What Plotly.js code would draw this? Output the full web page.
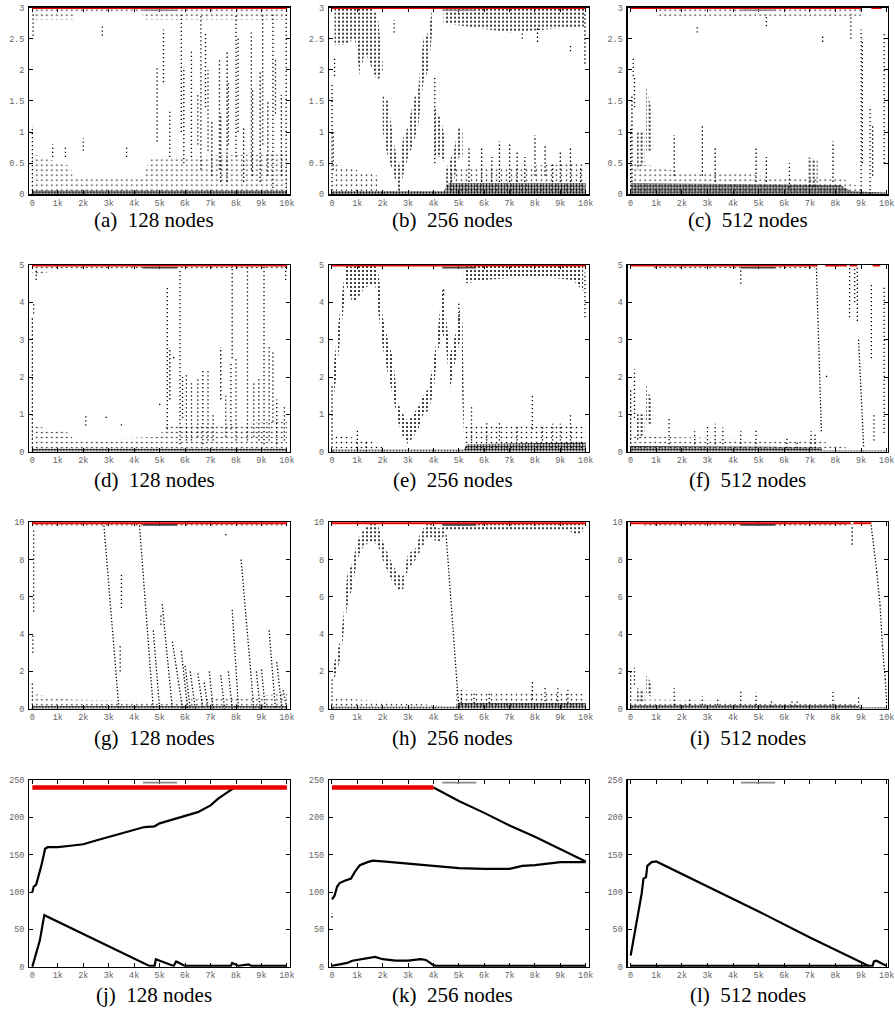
<!DOCTYPE html>
<html><head><meta charset="utf-8">
<script src="https://cdn.plot.ly/plotly-3.0.1.min.js"></script>
<style>html,body{margin:0;padding:0;background:#fff}#chart{width:895px;height:1010px}</style>
</head><body><div id="chart"></div>
<script>
// ---------- tick labels ----------
const xTickVals = [0,1,2,3,4,5,6,7,8,9,10];
const xTickText = ['0','1k','2k','3k','4k','5k','6k','7k','8k','9k','10k'];
const yTickVals = [[0,0.5,1,1.5,2,2.5,3],[0,1,2,3,4,5],[0,2,4,6,8,10],[0,50,100,150,200,250]];
const yTickText = [['0','0.5','1','1.5','2','2.5','3'],['0','1','2','3','4','5'],['0','2','4','6','8','10'],['0','50','100','150','200','250']];
const yMax = [3,5,10,250];
const redLevel = [3,5,10,240];
const letters = ['(a)','(b)','(c)','(d)','(e)','(f)','(g)','(h)','(i)','(j)','(k)','(l)'];
const nodeCounts = ['128 nodes','256 nodes','512 nodes'];

// ---------- panel (a) ----------
const a_red = [[0,10]];
const a_cloud = [[[0,0,0.65],[1.5,0,0.45],[1.6,0,0.25],[4.4,0,0.3],[4.6,0,0.6],[10,0,0.65]],
                 [[0,2.8,3],[1.6,2.8,3],[1.7,2.9,3],[4.3,2.9,3],[4.4,2.8,3],[10,2.8,3]]];
const a_band = [];
const a_dense = [[[0,0,0.06],[10,0,0.06]]];
const a_streak = [[0,0,1.1],[0.03,2.55,2.9],[2.0,0.7,0.9],[3.7,0.6,0.75],[0.8,0.6,0.8],[1.3,0.6,0.75],[2.75,2.55,2.7],
  [4.9,0.85,2.05],[5.15,1.8,2.65],[5.4,0.6,1.35],[5.85,1.0,2.9],[5.95,0.5,2.0],[6.25,0.6,2.3],[6.5,0.8,1.6],[6.62,0.4,2.9],
  [6.8,1.4,2.6],[6.9,0.7,2.0],[7.05,0.3,1.2],[7.35,0.4,2.2],[7.4,0.2,1.3],[7.65,0.2,2.3],[7.7,0.8,1.8],[8.0,0.6,2.9],
  [8.08,1.0,2.5],[8.3,0.2,1.1],[8.6,0.4,2.6],[8.65,0.3,1.7],[8.95,0.2,2.0],[9.05,0.8,2.9],[9.25,0.3,1.5],[9.45,0.1,2.9],
  [9.55,1.3,2.2],[9.78,0.3,1.6],[9.97,0.1,2.9]];
const a_diag = [];

// ---------- panel (b) ----------
const b_red = [[0,10]];
const b_band = [
  [[0.1,2.4,3],[0.5,2.4,3],[0.9,2.5,3],[1.1,1.9,3],[1.3,2.3,3],[1.5,2.1,3],[1.8,1.8,2.9],[2.0,2.0,2.1]],
  [[2.0,1.0,1.6],[2.2,0.6,1.5],[2.45,0.3,0.8],[2.65,0.0,0.45],[2.8,0.3,0.9],[3.0,0.6,1.1],[3.2,0.8,1.5],[3.4,1.1,1.7],[3.6,1.8,2.5],[3.8,2.0,2.6],[3.95,2.6,3.0]],
  [[4.05,0.6,1.4],[4.3,0.6,1.2],[4.45,0.5,0.9]],
  [[4.5,0.1,0.4],[4.8,0.2,0.7],[5.0,0.6,1.1],[5.15,0.6,1.0]],
  [[4.4,2.75,3.0],[7,2.6,3.0],[10,2.7,3.0]]];
const b_cloud = [
  [[4.6,0,0.4],[10,0,0.5]],
  [[0,0,0.5],[1.8,0,0.3]]];
const b_dense = [[[0,0,0.05],[4.4,0,0.05],[4.6,0,0.18],[10,0,0.18]]];
const b_streak = [[0,0,1.8],[0.1,1.9,2.2],[0.05,0.4,1.0],[4.05,0.5,1.9],[9.97,2.1,2.9],[5.4,0.2,0.75],[5.9,0.2,0.75],
  [6.3,0.2,0.6],[6.6,0.2,0.85],[7.0,0.2,0.8],[7.3,0.2,0.7],[7.6,0.2,0.6],[8.0,0.3,0.95],[8.4,0.3,0.8],[8.7,0.2,0.5],
  [9.0,0.2,0.7],[9.4,0.2,0.75],[9.8,0.2,0.45],[2.45,2.6,2.8],[9.4,2.3,2.4],[7.5,2.5,2.6],[8.1,2.45,2.7]];
const b_diag = [];

// ---------- panel (c) ----------
const c_red = [[0,9.0],[9.4,9.8]];
const c_cloud = [
  [[1.0,2.85,3],[9.0,2.85,3]],
  [[0,0,0.5],[1.0,0,0.45],[2.0,0,0.35],[4.5,0,0.35],[5,0,0.3],[8.3,0,0.25],[9.0,0,0.1]]];
const c_band = [
  [[0.25,0.4,1.0],[0.55,0.5,1.0]],
  [[0.6,0.7,1.75],[0.85,0.7,1.3]],
  [[6.9,0.1,0.6],[7.3,0.1,0.55]]];
const c_dense = [[[0,0,0.18],[8.2,0,0.15],[8.6,0,0.05],[10,0,0.03]]];
const c_streak = [[0,0,1.1],[0.05,0.2,1.6],[0.1,1.9,2.2],[0.15,1.4,1.9],[1.7,0.3,0.95],[2.8,0.3,1.1],[3.3,0.2,0.75],
  [4.9,0.2,0.75],[5.3,0.2,0.6],[7.9,0.2,0.85],[6.2,0.1,0.5],[9.0,0,2.65],[9.05,0.5,2.5],[9.35,0,1.4],[9.45,0.3,1.1],
  [8.6,2.5,2.9],[9.9,0.5,2.6],[7.5,2.45,2.55],[2.6,2.6,2.7],[5.3,2.7,2.9]];
const c_diag = [];

// ---------- panel (d) ----------
const d_red = [[0,10]];
const d_cloud = [
  [[0,0,0.7],[1.5,0,0.5],[1.6,0,0.3],[5.0,0,0.4],[5.2,0,0.7],[10,0,0.8]],
  [[0,4.7,5],[0.5,4.8,5],[1.5,4.85,5],[10,4.85,5]]];
const d_band = [];
const d_dense = [[[0,0,0.08],[10,0,0.08]]];
const d_streak = [[0,0,3.6],[0.05,3.7,4.0],[0.15,4.6,4.9],[2.1,0.7,0.95],[2.9,0.9,0.95],[3.5,0.7,0.75],[5.0,1.25,1.3],
  [5.3,0.6,4.4],[5.4,1.4,2.8],[5.8,0.2,4.9],[5.9,0.9,2.0],[6.05,0.3,2.1],[6.25,0.3,1.9],[6.5,0.4,2.0],[6.7,0.2,2.2],
  [6.9,0.3,2.2],[7.1,0.3,1.0],[7.4,1.4,2.8],[7.6,0.4,1.5],[7.8,0.6,2.4],[7.85,2.5,5],[8.0,0.3,2.5],[8.45,0.3,5],
  [8.7,0.4,1.9],[8.9,0.3,2.0],[9.1,0.2,5],[9.3,0.3,2.8],[9.45,0.8,2.7],[9.6,0.2,1.4],[9.9,0.3,1.2],[9.95,4.6,5],[5.55,2.5,2.6]];
const d_diag = [];

// ---------- panel (e) ----------
const e_red = [[0,10]];
const e_band = [
  [[0.05,1.4,2.2],[0.15,1.9,2.8],[0.3,2.9,3.7],[0.45,3.8,4.5],[0.55,4.5,5.0],[0.8,4.0,4.95],[1.0,4.1,5.0],[1.3,4.4,5.0],
   [1.7,4.5,5.0],[1.85,3.6,4.7],[2.0,2.8,3.6],[2.2,2.1,3.0],[2.4,1.5,2.5],[2.6,0.8,1.3],[2.8,0.4,1.0],[3.0,0.2,0.8],
   [3.2,0.4,1.0],[3.4,0.6,1.2],[3.6,1.0,1.5],[3.8,1.1,1.7],[4.0,1.6,2.4],[4.15,2.6,3.1],[4.35,3.2,4.4],[4.5,2.8,3.6],
   [4.65,1.7,2.6],[4.85,2.4,3.1],[5.05,3.0,3.9],[5.15,1.2,3.4],[5.2,0.5,1.0]],
  [[5.2,4.5,5],[6,4.6,5],[8,4.7,5],[9.5,4.6,5],[9.9,4.3,5]]];
const e_cloud = [
  [[5.2,0,0.7],[10,0,0.7]],
  [[0,0,0.5],[2.0,0,0.2]]];
const e_dense = [[[0,0,0.05],[5.2,0,0.05],[5.3,0,0.2],[10,0,0.25]]];
const e_streak = [[0,0,1.8],[1.0,0.1,0.6],[1.35,0,0.3],[5.5,0.3,1.2],[7.9,0.6,1.5],[9.4,0.3,1.0],[6.1,0.3,0.8],
  [6.6,0.3,0.8],[7.3,0.3,0.7],[8.3,0.3,0.7],[8.7,0.3,0.75],[9.0,0.3,0.75],[9.97,3.6,4.8],[5.0,3.5,4.0],[4.4,4.2,4.4]];
const e_diag = [];

// ---------- panel (f) ----------
const f_red = [[0,7.3],[7.6,8.45],[8.55,8.85],[9.45,9.75]];
const f_cloud = [
  [[0.9,4.85,5],[7.2,4.85,5]],
  [[0,0,0.45],[1.0,0,0.4],[4.5,0,0.35],[7.4,0,0.3],[8.0,0,0.15],[9.0,0,0.05]]];
const f_band = [
  [[0.25,0.3,1.0],[0.55,0.5,1.0]],
  [[0.6,0.8,1.8],[0.85,0.7,1.3]]];
const f_dense = [[[0,0,0.15],[7.4,0,0.12],[7.5,0,0.04],[10,0,0.04]]];
const f_streak = [[0,0,1.7],[0.15,0.9,2.2],[1.5,0.2,0.9],[2.5,0.2,0.55],[3.0,0.2,0.7],[3.3,0.2,0.75],[3.6,0.2,0.65],
  [4.3,0.1,0.55],[4.9,0.1,0.6],[6.1,0.1,0.35],[6.5,0.1,0.3],[7.05,0.1,0.55],[7.2,0.1,0.5],[8.55,3.6,5],[8.75,4.0,4.9],
  [8.85,3.5,5],[9.4,2.5,4.5],[9.5,0.3,1.0],[9.9,0.5,4.4],[4.3,4.5,4.9],[7.65,2.0,2.1]];
const f_diag = [[7.25,5,7.45,0.5],[8.9,3.0,9.1,0.1]];

// ---------- panel (g) ----------
const g_red = [[0,10]];
const g_cloud = [
  [[0,0,0.8],[1.5,0,0.5],[5,0,0.4],[10,0,0.8]],
  [[0,9.7,10],[10,9.7,10]]];
const g_band = [];
const g_dense = [[[0,0,0.15],[10,0,0.15]]];
const g_streak = [[0,0,1.5],[0.02,3.0,4.0],[0.05,5.2,9.7],[3.5,5.4,7.3],[5.05,4.5,5.0],[3.45,2.0,3.5],[7.6,9.3,9.5]];
const g_diag = [[2.8,10,3.4,0],[4.2,10,4.75,0],[4.75,4.2,5.0,0],[5.1,5.6,5.5,0],[5.5,3.6,5.9,0],[5.85,3.1,6.1,0],
  [6.0,2.3,6.2,0],[6.2,2.0,6.4,0],[6.5,1.9,6.7,0],[6.75,1.4,6.9,0],[6.95,2.0,7.1,0],[7.4,1.8,7.55,0],[7.7,2.0,7.85,0],
  [7.85,5.3,8.1,0],[8.2,8.0,8.7,0],[8.8,2.0,8.95,0],[9.0,2.1,9.15,0],[9.3,4.2,9.55,0],[9.6,2.5,9.8,0],[9.85,1.0,10,0]];

// ---------- panel (h) ----------
const h_red = [[0,10]];
const h_band = [
  [[0.05,1.5,2.3],[0.2,2.0,3.0],[0.35,2.8,3.8],[0.45,4.0,5.0],[0.6,5.5,7.2],[0.8,6.5,7.8],[1.0,8.0,9.0],[1.2,8.6,9.5],
   [1.5,9.0,10],[1.8,8.8,9.9],[2.0,8.0,9.0],[2.3,7.0,8.0],[2.6,6.4,7.2],[2.8,6.4,7.1],[3.0,7.5,8.3],[3.3,8.0,8.6],
   [3.5,8.5,9.5],[3.8,9.3,10],[4.1,9.0,9.8],[4.3,9.0,9.6],[4.5,9.5,10]],
  [[4.5,9.6,10],[9.3,9.6,10],[9.6,9.3,10],[9.9,9.5,10]]];
const h_cloud = [
  [[4.9,0,1.0],[10,0,0.8]],
  [[0,0,0.6],[4.9,0,0.1]]];
const h_dense = [[[0,0,0.1],[4.9,0,0.1],[5.0,0,0.3],[10,0,0.3]]];
const h_streak = [[0,0,1.6],[7.9,0.5,1.45],[8.4,0.4,1.2],[8.9,0.4,1.1],[9.3,0.3,1.0],[5.1,0.3,1.0],[5.6,0.3,0.9],[6.2,0.3,0.9]];
const h_diag = [[4.5,9.3,5.0,0]];

// ---------- panel (i) ----------
const i_red = [[0,8.6],[8.7,9.4]];
const i_cloud = [
  [[0.5,9.7,10],[8.5,9.7,10]],
  [[0,0,0.5],[1.0,0,0.5],[4.5,0,0.4],[8.2,0,0.35],[9.0,0,0.2],[9.3,0,0.05]]];
const i_band = [
  [[0.25,0.3,1.1],[0.55,0.3,1.0]],
  [[0.6,0.8,1.8],[0.85,0.6,1.3]]];
const i_dense = [[[0,0,0.2],[8.7,0,0.2],[9.0,0,0.08],[10,0,0.08]]];
const i_streak = [[0,0,2.0],[0.15,1.3,2.2],[1.7,0.2,1.1],[2.3,0.2,0.6],[2.8,0.2,0.65],[3.4,0.2,0.6],[4.3,0.2,0.95],
  [4.9,0.2,0.85],[5.5,0.1,0.4],[6.3,0.1,0.5],[6.5,0.1,0.5],[7.9,0.2,0.9],[8.9,0.1,0.6],[8.65,8.8,9.9]];
const i_diag = [[9.39,9.85,9.61,7.35],[9.61,7.35,9.74,5.56],[9.74,5.56,9.83,3.4],[9.83,3.4,9.94,1.6],[9.94,1.6,10,0.2]];

// ---------- panel (j) ----------
const j_red = [[0,10]];
const j_upper = [[0,100],[0.05,107],[0.15,110],[0.25,122],[0.35,135],[0.45,150],[0.5,158],[0.6,160],[1.0,160],[1.5,162],
  [2.0,164],[2.5,169],[3.0,174],[3.5,178],[4.0,183],[4.4,187],[4.8,188],[5.0,192],[5.5,197],[6.0,202],[6.5,207],
  [7.0,216],[7.3,225],[7.6,232],[7.9,239]];
const j_lower = [[0,0],[0.17,20],[0.3,36],[0.39,54],[0.47,69],[4.6,1],[4.8,1],[4.85,10],[5.55,1],[5.65,7],[6.0,1],
  [7.8,1],[7.85,5],[8.1,1],[8.5,3],[8.6,1],[10,1]];
// ---------- panel (k) ----------
const k_red = [[0,4.0]];
const k_top = [[4.0,240],[5.0,222],[6.0,206],[7.0,189],[8.0,174],[9.0,158],[10,141]];
const k_mid = [[0,90],[0.1,95],[0.2,107],[0.3,112],[0.5,115],[0.75,118],[0.9,127],[1.1,136],[1.4,140],[1.6,142],
  [2.0,141],[3.0,138],[4.0,135],[5.0,132],[6.0,131],[7.0,131],[7.5,135],[8.0,136],[9.0,140],[10,140]];
const k_lower = [[0,1],[0.3,3],[0.6,5],[0.8,8],[1.0,9],[1.3,10],[1.7,13],[2.0,10],[2.5,8],[3.0,8],[3.5,10],[3.7,9],
  [4.0,2],[4.1,1],[10,1]];
const k_streak = [[0,66,72]];
// ---------- panel (l) ----------
const l_main = [[0,15],[0.17,49],[0.3,74],[0.43,98],[0.5,118],[0.6,120],[0.65,135],[0.82,140],[1.0,141],[3.0,108],
  [5.0,74],[7.0,39],[9.3,1],[9.45,1],[9.5,7],[9.6,8],[10,1]];
const l_floor = [[0,1],[9.3,1]];

// ---------- assemble ----------
const panels = [
  {red:a_red, cloud:a_cloud, band:a_band, dense:a_dense, streak:a_streak, diag:a_diag, curves:[]},
  {red:b_red, cloud:b_cloud, band:b_band, dense:b_dense, streak:b_streak, diag:b_diag, curves:[]},
  {red:c_red, cloud:c_cloud, band:c_band, dense:c_dense, streak:c_streak, diag:c_diag, curves:[]},
  {red:d_red, cloud:d_cloud, band:d_band, dense:d_dense, streak:d_streak, diag:d_diag, curves:[]},
  {red:e_red, cloud:e_cloud, band:e_band, dense:e_dense, streak:e_streak, diag:e_diag, curves:[]},
  {red:f_red, cloud:f_cloud, band:f_band, dense:f_dense, streak:f_streak, diag:f_diag, curves:[]},
  {red:g_red, cloud:g_cloud, band:g_band, dense:g_dense, streak:g_streak, diag:g_diag, curves:[]},
  {red:h_red, cloud:h_cloud, band:h_band, dense:h_dense, streak:h_streak, diag:h_diag, curves:[]},
  {red:i_red, cloud:i_cloud, band:i_band, dense:i_dense, streak:i_streak, diag:i_diag, curves:[]},
  {red:j_red, cloud:[], band:[], dense:[], streak:[], diag:[], curves:[j_upper,j_lower]},
  {red:k_red, cloud:[], band:[], dense:[], streak:k_streak, diag:[], curves:[k_top,k_mid,k_lower]},
  {red:[], cloud:[], band:[], dense:[], streak:[], diag:[], curves:[l_main,l_floor]}
];

const colDom = [[0.0328,0.3240],[0.3676,0.6578],[0.7013,0.9919]];
const rowDom = [[0.8076,0.9924],[0.5528,0.7376],[0.2983,0.4829],[0.0429,0.2277]];
const xRange = [[-0.118,10.12],[-0.118,10.12],[-0.117,10.04]];
const capX = [0.1726,0.5056,0.8352];
const capTopPx = [207.5,467,725,981.5];

function bandPoly(bands){
  const x=[],y=[];
  bands.forEach(b=>{
    b.forEach(p=>{x.push(p[0]);y.push(p[1]);});
    for(let k=b.length-1;k>=0;k--){x.push(b[k][0]);y.push(b[k][2]);}
    x.push(null);y.push(null);
  });
  return {x,y};
}
function streakXY(s){const x=[],y=[];s.forEach(v=>{x.push(v[0],v[0],null);y.push(v[1],v[2],null);});return {x,y};}
function diagXY(s){const x=[],y=[];s.forEach(v=>{x.push(v[0],v[2],null);y.push(v[1],v[3],null);});return {x,y};}
function patternTrace(bands,xa,ya,size,solidity){
  const b=bandPoly(bands);
  return {type:'scatter',mode:'none',x:b.x,y:b.y,xaxis:xa,yaxis:ya,fill:'toself',fillcolor:'rgba(0,0,0,0)',
    fillpattern:{shape:'.',fgcolor:'#000',bgcolor:'rgba(0,0,0,0)',size:size,solidity:solidity},hoverinfo:'skip'};
}

const traces=[], shapes=[], annotations=[];
const layout = {width:895,height:1010,margin:{l:0,r:0,t:0,b:0},paper_bgcolor:'#fff',plot_bgcolor:'#fff',showlegend:false};

panels.forEach((p,i)=>{
  const n=i+1, sfx=(n>1?n:''), xa='x'+sfx, ya='y'+sfx;
  const r=Math.floor(i/3), c=i%3;
  const tf={family:'Liberation Mono, DejaVu Sans Mono, monospace',size:8.5,color:'#666'};
  layout['xaxis'+sfx]={domain:colDom[c],anchor:ya,range:xRange[c],tickvals:xTickVals,ticktext:xTickText,
    ticks:'inside',ticklen:4,tickwidth:1,tickcolor:'#000',showline:true,linecolor:'#000',linewidth:1.2,mirror:'ticks',
    showgrid:false,zeroline:false,tickfont:tf,fixedrange:true,layer:'below traces'};
  layout['yaxis'+sfx]={domain:rowDom[r],anchor:xa,range:[0,yMax[r]],tickvals:yTickVals[r],ticktext:yTickText[r],
    ticks:'inside',ticklen:4,tickwidth:1,tickcolor:'#000',showline:true,linecolor:'#000',linewidth:1.2,mirror:'ticks',
    showgrid:false,zeroline:false,tickfont:tf,fixedrange:true,layer:'below traces',ticklabelstandoff:2};
  if(p.cloud.length) traces.push(patternTrace(p.cloud,xa,ya,5,0.08));
  if(p.band.length) traces.push(patternTrace(p.band,xa,ya,4,0.2));
  if(p.dense.length) traces.push(patternTrace(p.dense,xa,ya,3,0.5));
  if(p.streak.length){const s=streakXY(p.streak);
    traces.push({type:'scatter',mode:'lines',x:s.x,y:s.y,xaxis:xa,yaxis:ya,connectgaps:false,
      line:{color:'#000',width:1.3,dash:'1.3px,2.7px'},hoverinfo:'skip'});}
  if(p.diag.length){const s=diagXY(p.diag);
    traces.push({type:'scatter',mode:'lines',x:s.x,y:s.y,xaxis:xa,yaxis:ya,connectgaps:false,
      line:{color:'#000',width:1.3,dash:'1.3px,2px'},hoverinfo:'skip'});}
  p.curves.forEach(cv=>{
    traces.push({type:'scatter',mode:'lines',x:cv.map(v=>v[0]),y:cv.map(v=>v[1]),xaxis:xa,yaxis:ya,
      line:{color:'#000',width:2.2},cliponaxis:false,hoverinfo:'skip'});});
  if(p.red.length){const x=[],y=[];p.red.forEach(s=>{x.push(s[0],s[1],null);y.push(redLevel[r],redLevel[r],null);});
    traces.push({type:'scatter',mode:'lines',x:x,y:y,xaxis:xa,yaxis:ya,connectgaps:false,cliponaxis:false,
      line:{color:'#ee0000',width:(r===0||r===1)?2.8:(r===2?4:4.5)},hoverinfo:'skip'});}
  shapes.push({type:'line',xref:xa+' domain',yref:ya+' domain',x0:0.436,x1:0.567,y0:0.986,y1:0.986,
    line:{color:(r===1||r===2)?'#444':'#888',width:1.6}});
  annotations.push({xref:'paper',yref:'paper',x:capX[c],y:1-capTopPx[r]/1010,xanchor:'center',yanchor:'top',
    showarrow:false,borderpad:0,
    text:letters[i]+'\u00a0\u00a0'+nodeCounts[c],font:{family:'Liberation Serif, DejaVu Serif, serif',size:21,color:'#000'}});
});
layout.shapes=shapes; layout.annotations=annotations;
Plotly.newPlot('chart',traces,layout,{displayModeBar:false,staticPlot:true});
</script></body></html>
